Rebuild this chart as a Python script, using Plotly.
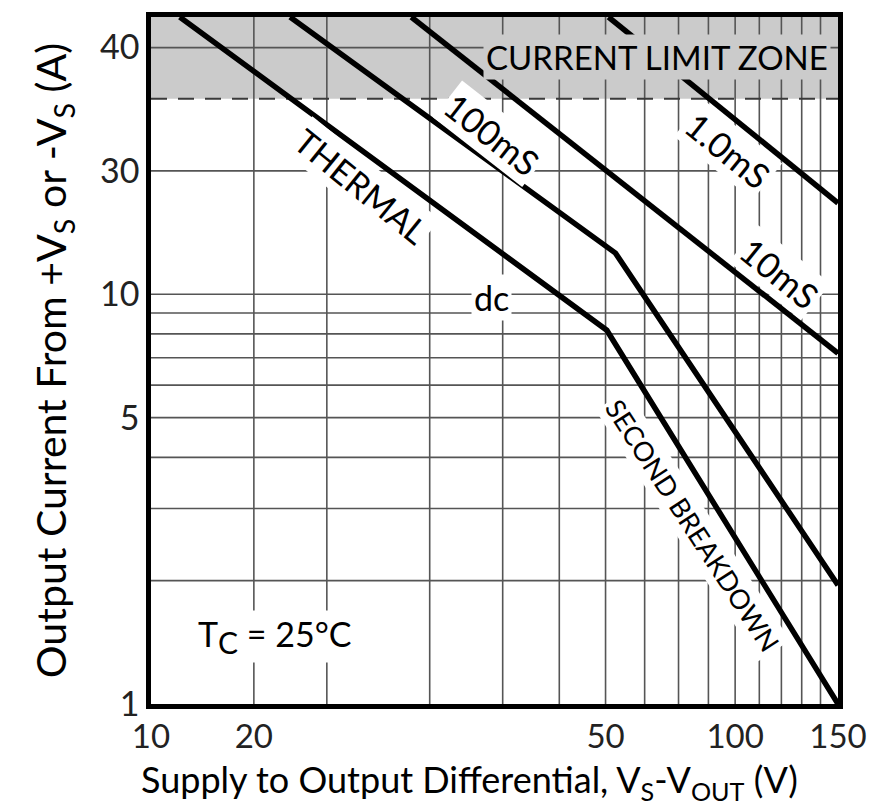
import math
import plotly.graph_objects as go

# Safe operating area boundaries: supply-to-output differential (V) vs output current (A)
dc_v = [11.2, 60.3, 150]
dc_i = [47.5, 8.17, 1.0]
ms100_v = [17.3, 62.4, 150]
ms100_i = [47.5, 12.6, 1.95]
ms10_v = [27.9, 150]
ms10_i = [47.5, 7.18]
ms1_v = [60.7, 150]
ms1_i = [47.5, 16.7]

current_limit = 30
i_top = 47.5
v_min, v_max = 10, 150

# grid lines and axis labels
x_grid = [15, 20, 30, 40, 50, 60, 70, 80, 90, 100, 110, 120, 130, 140]
y_grid = [2, 3, 4, 5, 6, 7, 8, 9, 10, 20, 40]
x_tick_pos = [10, 15, 60, 100, 150]
x_tick_text = ["10", "20", "50", "100", "150"]
y_tick_pos = [1, 5, 10, 20, 40]
y_tick_text = ["1", "5", "10", "30", "40"]

FONT = "Lato"
GRID = "#555555"
ZONE = "#cbcbcb"

fig = go.Figure()

for xs, ys in [(dc_v, dc_i), (ms100_v, ms100_i), (ms10_v, ms10_i), (ms1_v, ms1_i)]:
    fig.add_trace(go.Scatter(x=xs, y=ys, mode="lines",
                             line=dict(color="black", width=5.5),
                             showlegend=False, hoverinfo="skip"))

# current limit zone
fig.add_shape(type="rect", xref="x domain", yref="y", x0=0, x1=1,
              y0=current_limit, y1=i_top, fillcolor=ZONE, line_width=0, layer="below")
for v in x_grid:
    fig.add_shape(type="line", xref="x", yref="y domain", x0=v, x1=v, y0=0, y1=1,
                  line=dict(color=GRID, width=1.6), layer="below")
for v in y_grid:
    fig.add_shape(type="line", xref="x domain", yref="y", x0=0, x1=1, y0=v, y1=v,
                  line=dict(color=GRID, width=1.7), layer="below")
fig.add_shape(type="line", xref="x domain", yref="y", x0=0, x1=1,
              y0=current_limit, y1=current_limit,
              line=dict(color="#3a3a3a", width=2, dash="16px,11px"), layer="below")


def label(text, v, i, size, angle=0, bg="white"):
    # annotation positions on log axes are given in log10 units
    fig.add_annotation(x=math.log10(v), y=math.log10(i), xref="x", yref="y",
                       text=text, showarrow=False, textangle=angle,
                       bgcolor=bg, borderpad=2,
                       font=dict(family=FONT, size=size, color="black"))


label("CURRENT LIMIT ZONE", 73.6, 37.9, 33, bg=ZONE)
label("100mS", 38.4, 24.6, 35, 38)
label("THERMAL", 22.9, 18.4, 34, 39)
label("1.0mS", 97.3, 22.5, 35, 39)
label("10mS", 119.4, 11.3, 35, 39)
label("dc", 38.2, 9.8, 34)
label("SECOND BREAKDOWN", 84.7, 2.73, 27, 57)
label("T<sub><span style='font-size:30px'>C</span></sub> = 25°C", 16.3, 1.46, 34)

# x-axis title, sitting slightly left of the plot centre
fig.add_annotation(xref="paper", yref="paper", x=0.463, y=-0.1515,
                   xanchor="center", yanchor="bottom", showarrow=False,
                   text="Supply to Output Differential, V<sub>S</sub>-V<sub>OUT</sub> (V)",
                   font=dict(family=FONT, size=36, color="black"))

fig.update_xaxes(type="log", range=[math.log10(v_min), math.log10(v_max)],
                 tickvals=x_tick_pos, ticktext=x_tick_text, ticks="",
                 showgrid=False, zeroline=False,
                 showline=True, linewidth=4.5, linecolor="black", mirror=True,
                 tickfont=dict(family=FONT, size=33, color="#222"))
fig.update_yaxes(type="log", range=[0, math.log10(i_top)],
                 tickvals=y_tick_pos, ticktext=y_tick_text, ticks="",
                 showgrid=False, zeroline=False,
                 showline=True, linewidth=4.5, linecolor="black", mirror=True,
                 tickfont=dict(family=FONT, size=34, color="#222"),
                 title=dict(text="Output Current From +V<sub>S</sub> or -V<sub>S</sub> (A)",
                            font=dict(family=FONT, size=41, color="black"), standoff=22))

fig.update_layout(width=879, height=811, plot_bgcolor="white", paper_bgcolor="white",
                  margin=dict(l=151, r=39, t=16, b=107), showlegend=False)

fig.write_html("out.html")
